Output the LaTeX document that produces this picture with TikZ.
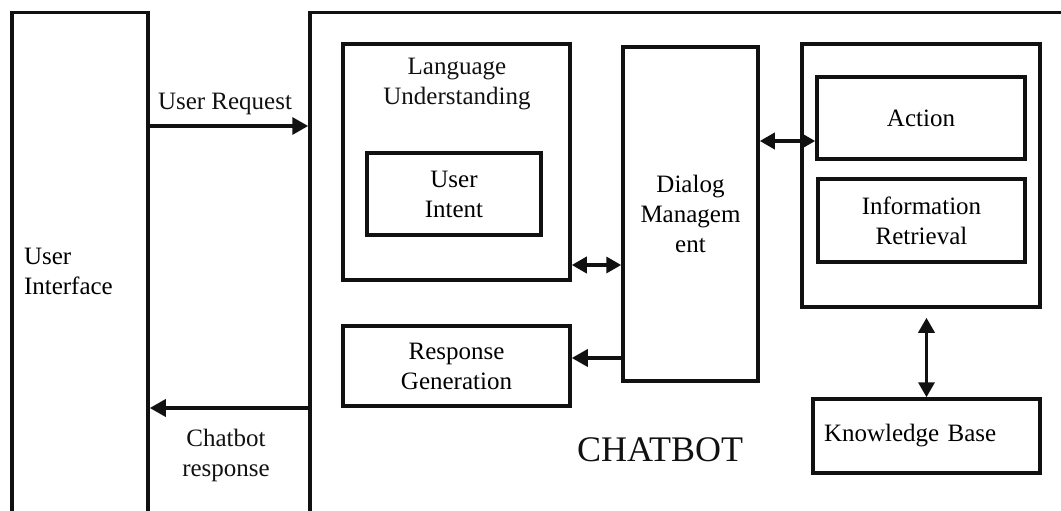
\documentclass[tikz,border=0pt]{standalone}
\usepackage{fontspec}
\setmainfont{Liberation Serif}
\usetikzlibrary{positioning,arrows.meta}
\definecolor{cnegro}{HTML}{111111}
\tikzset{
  caja/.style={rectangle, draw=cnegro, line width=3.5pt, inner sep=0pt,
    align=center, font=\fontsize{25}{30}\selectfont},
  flecha/.style={-{Triangle[length=16pt,width=17pt]}, line width=3.5pt, draw=cnegro},
  doble/.style={{Triangle[length=15pt,width=16pt]}-{Triangle[length=15pt,width=16pt]},
    line width=3.5pt, draw=cnegro},
  etq/.style={font=\fontsize{25}{30}\selectfont, align=center, text=cnegro, inner sep=0pt},
}
\begin{document}
\begin{tikzpicture}[x=1pt,y=-1pt]
  \useasboundingbox (0,0) rectangle (1061,511);
  \clip (0,0) rectangle (1061,511);
  \node[caja, minimum width=136pt, minimum height=517pt, text width=112pt, align=left] (ui) at (80,271) {User\\Interface};
  \node[caja, minimum width=770pt, minimum height=517pt] (bot) at (695,271) {};
  \node[caja, minimum width=227pt, minimum height=236pt] (lu) at (456.5,162) {};
  \node[etq] (lut) at (457,84) {Language\\Understanding};
  \node[caja, minimum width=174pt, minimum height=82pt] (intent) at (454,194) {User\\Intent};
  \node[caja, minimum width=135pt, minimum height=334pt] (dm) at (690.5,214) {Dialog\\Managem\\ent};
  \node[caja, minimum width=227pt, minimum height=80pt] (rg) at (456.5,366) {Response\\Generation};
  \node[caja, minimum width=238pt, minimum height=263pt] (grp) at (921,175.5) {};
  \node[caja, minimum width=208pt, minimum height=82pt] (act) at (921,118) {Action};
  \node[caja, minimum width=207pt, minimum height=83pt] (ir) at (921.5,220.5) {Information\\Retrieval};
  \node[caja, minimum width=227pt, minimum height=74pt, text width=205pt, align=left] (kb) at (926.5,436) {Knowledge Base};
  \node[etq, font=\fontsize{36}{40}\selectfont] (lbot) at (660,450) {CHATBOT};
  \coordinate (yreq) at (0,126);
  \coordinate (yresp) at (0,408);
  \coordinate (ylu) at (0,265);
  \coordinate (yrg) at (0,358);
  \coordinate (yact) at (0,141);
  \draw[flecha] (ui.east |- yreq) -- (bot.west |- yreq);
  \node[etq] (lreq) at (225,104) {User Request};
  \draw[flecha] (bot.west |- yresp) -- (ui.east |- yresp);
  \node[etq] (lresp) at (226,455) {Chatbot\\response};
  \draw[doble] (lu.east |- ylu) -- (dm.west |- ylu);
  \draw[flecha] (dm.west |- yrg) -- (rg.east |- yrg);
  \draw[doble] (dm.east |- yact) -- (act.west |- yact);
  \draw[doble, shorten <=9pt] (kb.north |- grp.south) -- (kb.north);
\end{tikzpicture}
\end{document}
